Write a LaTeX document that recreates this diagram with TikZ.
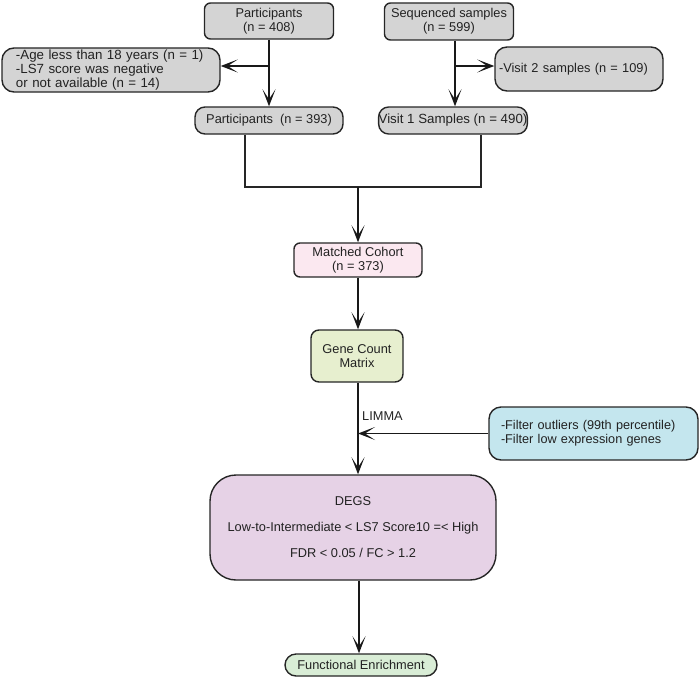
\documentclass[tikz,border=0pt]{standalone}
\usepackage{fontspec}
\setmainfont{Liberation Sans}
\usetikzlibrary{arrows.meta}
\definecolor{boxgray}{HTML}{D4D4D4}
\definecolor{boxpink}{HTML}{FBE8F0}
\definecolor{boxgreen}{HTML}{E7EFCF}
\definecolor{boxblue}{HTML}{C4E6EE}
\definecolor{boxpurple}{HTML}{E6D2E6}
\definecolor{boxmint}{HTML}{D9EDD6}
\definecolor{txt}{HTML}{222222}
\begin{document}
\begin{tikzpicture}[x=1pt,y=-1pt,
  every node/.style={font=\fontsize{12.8}{14}\selectfont, text=txt},
  bx/.style={draw=black!85, line width=1.4pt, rectangle, inner sep=0pt, align=center},
  arr/.style={line width=1.7pt, draw=black!90, -{Stealth[length=17pt,width=13pt,inset=10pt]}},
  ln/.style={line width=1.4pt, draw=black!85}]
\useasboundingbox (0,0) rectangle (700,677);

\node[bx, fill=boxgray, rounded corners=6pt, minimum width=129pt, minimum height=36pt] (p408) at (269,21) {Participants\\(n = 408)};
\node[bx, fill=boxgray, rounded corners=6pt, minimum width=129pt, minimum height=37pt] (seq) at (449,21.5) {Sequenced samples\\(n = 599)};
\node[bx, fill=boxgray, rounded corners=12pt, minimum width=218pt, minimum height=44pt, align=left, text width=190pt, font=\fontsize{13.3}{14}\selectfont] (excl) at (111,70) {-Age less than 18 years (n = 1)\\-LS7 score was negative\\or not available (n = 14)};
\node[bx, fill=boxgray, rounded corners=10pt, minimum width=148pt, minimum height=27pt] (p393) at (269,120.5) {Participants\ \ (n = 393)};
\node[bx, fill=boxgray, rounded corners=12pt, minimum width=168pt, minimum height=44pt, align=left, text width=160pt, font=\fontsize{12.8}{14}\selectfont] (v2) at (579,69) {-Visit 2 samples (n = 109)};
\node[bx, fill=boxgray, rounded corners=10pt, minimum width=148pt, minimum height=27pt, font=\fontsize{13.3}{14}\selectfont] (v1) at (453,120.5) {Visit 1 Samples (n = 490)};
\node[bx, fill=boxpink, rounded corners=6pt, minimum width=128pt, minimum height=34pt] (mc) at (358,260) {Matched Cohort\\(n = 373)};
\node[bx, fill=boxgreen, rounded corners=8pt, minimum width=92pt, minimum height=52pt] (gc) at (357,356) {Gene Count\\Matrix};
\node[bx, fill=boxblue, rounded corners=12pt, minimum width=209pt, minimum height=53pt, align=left, text width=185pt, font=\fontsize{12.7}{14}\selectfont] (filt) at (593.5,433.5) {-Filter outliers (99th percentile)\\-Filter low expression genes};
\node[bx, fill=boxpurple, rounded corners=26pt, minimum width=286pt, minimum height=105pt, align=center] (degs) at (353,527.5) {DEGS\\[12pt]Low-to-Intermediate {<} LS7 Score10 ={<} High\\[12pt]FDR {<} 0.05 / FC {>} 1.2};
\node[bx, fill=boxmint, rounded corners=11pt, minimum width=152pt, minimum height=22pt] (fe) at (361,665) {Functional Enrichment};
\node[anchor=west, inner sep=0pt] (limma) at (362,416) {LIMMA};

\coordinate (j1) at (269,66);
\coordinate (j2) at (455,66);
\coordinate (j3) at (358,187);
\coordinate (la) at (245,0);
\coordinate (ra) at (481,0);

\draw[arr] (p408) -- (p393);
\draw[arr] (j1) -- (j1 -| excl.east);
\draw[arr] (j2 |- seq.south) -- (j2 |- v1.north);
\draw[arr] (j2) -- (j2 -| v2.west);
\draw[ln] (la |- p393.south) |- (j3) -| (ra |- v1.south);
\draw[arr] (j3) -- (j3 |- mc.north);
\draw[arr] (mc.south -| j3) -- (j3 |- gc.north);
\draw[arr] (j3 |- gc.south) -- (j3 |- degs.north);
\draw[arr] (filt.west) -- (filt.west -| j3);
\draw[arr] (degs.south -| 359,0) -- (fe.north -| 359,0);
\end{tikzpicture}
\end{document}
